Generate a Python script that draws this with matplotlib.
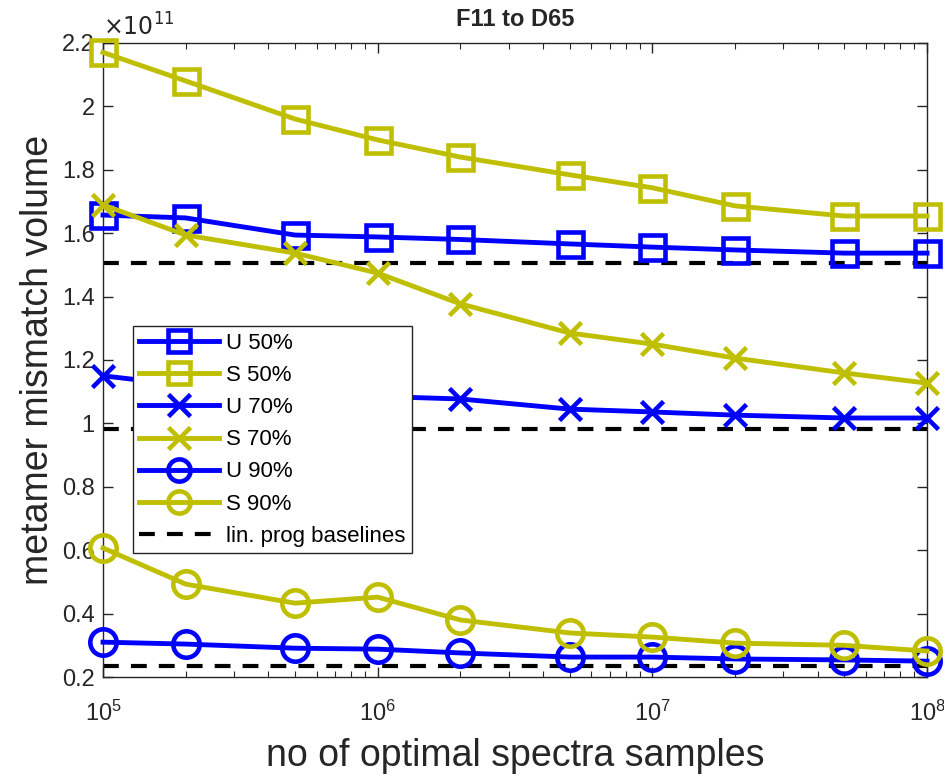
import matplotlib
matplotlib.use("Agg")
import matplotlib.pyplot as plt
from matplotlib.ticker import FuncFormatter, LogLocator, NullFormatter

plt.rcParams['font.family'] = ['Liberation Sans', 'DejaVu Sans']

samples = [1e5, 2e5, 5e5, 1e6, 2e6, 5e6, 1e7, 2e7, 5e7, 1e8]
u50 = [1.657, 1.648, 1.594, 1.588, 1.580, 1.566, 1.556, 1.547, 1.537, 1.537]
s50 = [2.170, 2.080, 1.960, 1.894, 1.840, 1.784, 1.743, 1.686, 1.654, 1.654]
u70 = [1.150, 1.120, 1.095, 1.085, 1.077, 1.045, 1.036, 1.026, 1.017, 1.017]
s70 = [1.689, 1.594, 1.537, 1.474, 1.377, 1.285, 1.250, 1.206, 1.159, 1.127]
u90 = [0.310, 0.304, 0.291, 0.288, 0.276, 0.263, 0.263, 0.257, 0.254, 0.250]
s90 = [0.607, 0.493, 0.433, 0.452, 0.380, 0.339, 0.326, 0.307, 0.300, 0.282]
baselines = [1.506, 0.982, 0.235]
yticks = [0.2, 0.4, 0.6, 0.8, 1.0, 1.2, 1.4, 1.6, 1.8, 2.0, 2.2]
scale = 1e11

blue = (0, 0, 1)
yellow = (0.75, 0.75, 0)
ink = '#262626'

fig = plt.figure(figsize=(9.45, 7.8), dpi=100)
ax = fig.add_axes([0.109, 0.132, 0.872, 0.813])

lw = 3.5
series = [
    (u50, blue, 's', 'U 50%'),
    (s50, yellow, 's', 'S 50%'),
    (u70, blue, 'x', 'U 70%'),
    (s70, yellow, 'x', 'S 70%'),
    (u90, blue, 'o', 'U 90%'),
    (s90, yellow, 'o', 'S 90%'),
]
for vals, col, mk, lab in series:
    ax.plot(samples, [v * scale for v in vals], color=col, marker=mk, lw=lw,
            ms=19 if mk == 'o' else (18 if mk == 's' else 16), mew=3.3,
            mfc='none', mec=col, label=lab, clip_on=False, zorder=3)

for i, b in enumerate(baselines):
    ax.plot([samples[0], samples[-1]], [b * scale, b * scale], color='black',
            ls=(0, (3.8, 2.9)), lw=3.0,
            label='lin. prog baselines' if i == 0 else None, zorder=2)

ax.set_xscale('log')
ax.set_xlim(1e5, 1e8)
ax.set_ylim(0.2e11, 2.2e11)
ax.set_yticks([v * scale for v in yticks])
ax.yaxis.set_major_formatter(FuncFormatter(lambda v, p: '%g' % round(v / scale, 6)))
ax.text(0.0, 1.004, r'$\times10^{11}$', transform=ax.transAxes, fontsize=17,
        color=ink, ha='left', va='bottom')
ax.xaxis.set_major_locator(LogLocator(base=10, numticks=10))
ax.xaxis.set_minor_locator(LogLocator(base=10, subs=range(2, 10), numticks=20))
ax.xaxis.set_minor_formatter(NullFormatter())

ax.tick_params(axis='both', which='both', direction='in', top=True, right=True,
               labelsize=17, colors=ink)
ax.tick_params(axis='both', which='major', length=7, width=1)
ax.tick_params(axis='both', which='minor', length=4, width=0.8)
ax.tick_params(axis='x', which='major', pad=17)
ax.tick_params(axis='y', which='major', pad=6)
for sp in ax.spines.values():
    sp.set_color(ink)
    sp.set_linewidth(1)

ax.set_xlabel('no of optimal spectra samples', fontsize=27, color=ink, labelpad=9)
ax.set_ylabel('metamer mismatch volume', fontsize=27, color=ink, labelpad=4)
ax.set_title('F11 to D65', fontsize=17, fontweight='bold', color=ink, pad=12)

leg = ax.legend(loc='upper left', bbox_to_anchor=(0.036, 0.553), fontsize=16,
                handlelength=3.6, borderpad=0.3, labelspacing=0.5, handletextpad=0.3,
                fancybox=False, framealpha=1, edgecolor=ink, borderaxespad=0)
leg.get_frame().set_linewidth(1)
for h in leg.legend_handles:
    h.set_markersize(16)

fig.savefig('out.png', dpi=100)
